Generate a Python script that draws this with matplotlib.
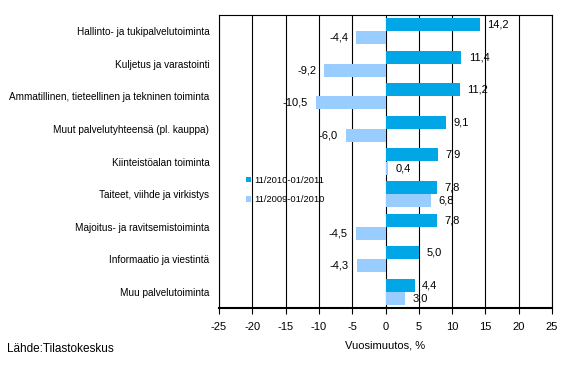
import numpy as np
import matplotlib.pyplot as plt

plt.rcParams['font.family'] = ['Liberation Sans', 'DejaVu Sans']

categories = [
    "Hallinto- ja tukipalvelutoiminta",
    "Kuljetus ja varastointi",
    "Ammatillinen, tieteellinen ja tekninen toiminta",
    "Muut palvelutyhteensä (pl. kauppa)",
    "Kiinteistöalan toiminta",
    "Taiteet, viihde ja virkistys",
    "Majoitus- ja ravitsemistoiminta",
    "Informaatio ja viestintä",
    "Muu palvelutoiminta",
]
s2011 = [14.2, 11.4, 11.2, 9.1, 7.9, 7.8, 7.8, 5.0, 4.4]
s2010 = [-4.4, -9.2, -10.5, -6.0, 0.4, 6.8, -4.5, -4.3, 3.0]
label2011 = "11/2010-01/2011"
label2010 = "11/2009-01/2010"
xticks = list(range(-25, 30, 5))

c_dark = "#00A6E6"
c_light = "#99CCFF"

fig = plt.figure(figsize=(5.68, 3.73), dpi=100)
ax = fig.add_axes([219 / 568, 1 - 308 / 373, (552 - 219) / 568, (308 - 15) / 373])

y = np.arange(len(categories))
h = 0.4
b1 = ax.barh(y - h / 2, s2011, height=h, color=c_dark, label=label2011, zorder=3)
b2 = ax.barh(y + h / 2, s2010, height=h, color=c_light, label=label2010, zorder=3)

# value labels, decimal comma
for bars, vals in [(b1, s2011), (b2, s2010)]:
    for bar, v in zip(bars, vals):
        yc = bar.get_y() + bar.get_height() / 2
        txt = f"{v:.1f}".replace(".", ",")
        if v >= 0:
            ax.text(v + 1.1, yc, txt, ha="left", va="center", fontsize=8, zorder=4)
        else:
            ax.text(v - 1.2, yc, txt, ha="right", va="center", fontsize=8, zorder=4)

ax.set_xlim(-25, 25)
ax.set_ylim(len(categories) - 0.5, -0.5)
ax.set_xticks(xticks)
ax.set_xticklabels([str(t) for t in xticks], fontsize=8)
ax.set_yticks(y)
ax.set_yticklabels(categories, fontsize=7.2)
ax.tick_params(axis="y", length=0, pad=7)
ax.tick_params(axis="x", length=4, width=0.8, direction="out", pad=6)
ax.grid(axis="x", color="black", linewidth=0.8, zorder=0)
for s in ax.spines.values():
    s.set_color("black")
    s.set_linewidth(0.8)
ax.spines["bottom"].set_linewidth(1.5)
ax.set_xlabel("Vuosimuutos, %", fontsize=8, labelpad=6)

ax.legend(loc="upper left", bbox_to_anchor=(0.055, 0.48), frameon=False,
          fontsize=6.7, handlelength=0.6, handleheight=0.6, labelspacing=1.1,
          handletextpad=0.3)

fig.text(7 / 568, 1 - 349 / 373, "Lähde:Tilastokeskus", fontsize=8.5, va="center")

fig.savefig("out.png", dpi=100)
